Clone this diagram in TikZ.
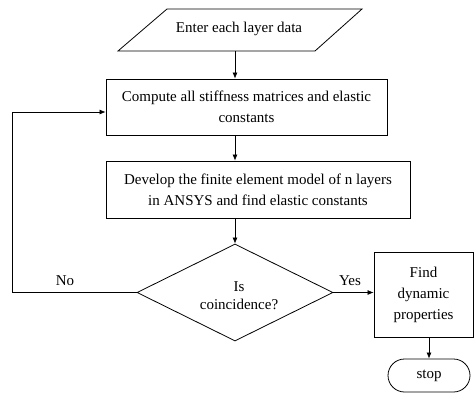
\documentclass[tikz,border=0pt]{standalone}
\usepackage{fontspec}
\setmainfont{Liberation Serif}
\usetikzlibrary{shapes.geometric,shapes.misc,arrows.meta}
\begin{document}
\begin{tikzpicture}[x=1pt,y=-1pt,
  box/.style={draw, line width=0.8pt, inner sep=0pt, align=center},
  arr/.style={-{Latex[length=6pt,width=5pt]}, line width=0.7pt},
  lbl/.style={inner sep=0pt},
  font=\fontsize{15}{21}\selectfont]
\useasboundingbox (0,0) rectangle (474,402);
% input parallelogram
\draw[line width=0.8pt] (167,9) -- (362,9) -- (315,51) -- (118,51) -- cycle;
\node[lbl] (b1) at (239,29) {Enter each layer data};
\coordinate (b1s) at (235,51);
% process boxes
\node[box, minimum width=281pt, minimum height=56pt] (b2) at (246.5,107)
  {Compute all stiffness matrices and elastic\\constants};
\node[box, minimum width=304pt, minimum height=57pt] (b3) at (258,189.5)
  {Develop the finite element model of n layers\\in ANSYS and find elastic constants};
\node[box, diamond, minimum width=196pt, minimum height=97pt] (d) at (235,292.5) {};
\node[lbl, align=center, font=\fontsize{15}{18}\selectfont] (dt) at (239,296) {Is\\coincidence?};
\node[box, minimum width=99pt, minimum height=85pt] (b4) at (423.5,294.5)
  {Find\\dynamic\\properties};
\node[box, rounded rectangle, minimum width=82pt, minimum height=33pt] (st) at (429,375.5)
  {stop};
\coordinate (lp) at (12,292.5);
% connectors
\draw[arr] (b1s) -- (b1s |- b2.north);
\draw[arr] (d.north |- b2.south) -- (d.north |- b3.north);
\draw[arr] (d.north |- b3.south) -- (d.north);
\draw[arr] (d.east) -- (d.east -| b4.west);
\draw[arr] (st.north |- b4.south) -- (st.north);
\draw[arr] (d.west) -- (lp) |- ([yshift=-5pt]b2.west);
% labels
\node[lbl] (no) at (65,281) {No};
\node[lbl] (yes) at (350,281) {Yes};
\end{tikzpicture}
\end{document}
